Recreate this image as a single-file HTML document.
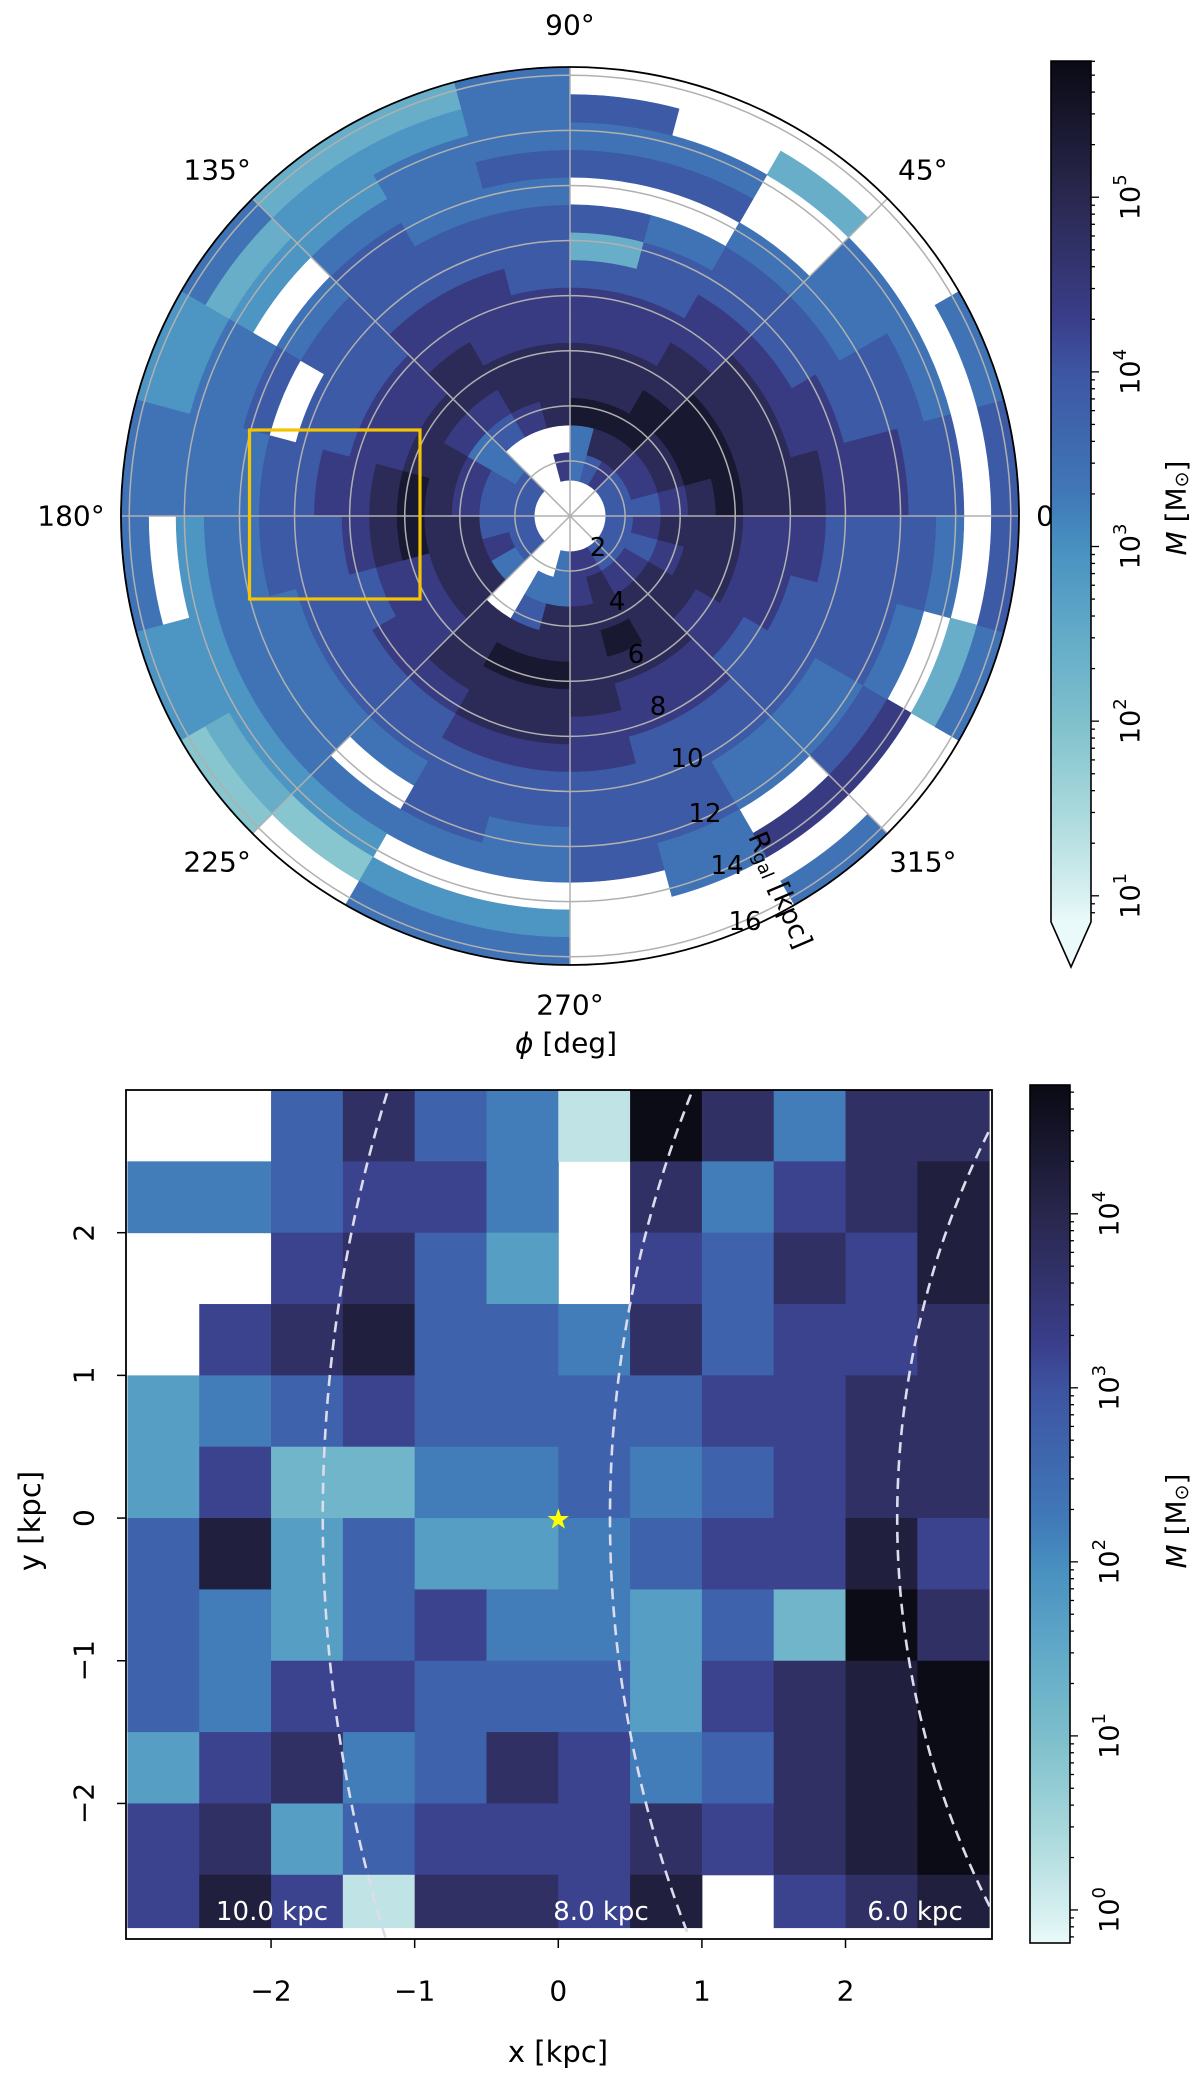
<!DOCTYPE html>
<html><head><meta charset="utf-8"><style>
body{margin:0;background:#fff;overflow:hidden;}
svg{display:block;}
svg text{font-family:"DejaVu Sans","Liberation Sans",sans-serif;}
</style></head><body>
<svg id="fig" xmlns="http://www.w3.org/2000/svg" width="1200" height="2079" viewBox="0 0 1200 2079">
<defs>
<linearGradient id="cbgrad" x1="0" y1="1" x2="0" y2="0">
<stop offset="0" stop-color="#eafafa"/><stop offset="0.03" stop-color="#d8f0f0"/><stop offset="0.13" stop-color="#a8d8dc"/><stop offset="0.233" stop-color="#7fc0cc"/><stop offset="0.335" stop-color="#62aac8"/><stop offset="0.436" stop-color="#4890c0"/><stop offset="0.497" stop-color="#4078b8"/><stop offset="0.64" stop-color="#3d55a3"/><stop offset="0.70" stop-color="#3a3e8a"/><stop offset="0.84" stop-color="#2a2850"/><stop offset="1" stop-color="#0a0a14"/>
</linearGradient>
<clipPath id="axclip"><rect x="126" y="1090" width="866" height="849"/></clipPath>
</defs>
<g id="polar"></g>
<g id="cb1"></g>
<g id="heat"></g>
<g id="cb2"></g>
</svg>
<script>
// ---------- data ----------
const polarPhiBinsDeg = [0,15,30,45,60,75,90,105,120,135,150,165,180,195,210,225,240,255,270,285,300,315,330,345];
const polarRStart = [1.3,2.3,3.3,4.3,5.3,6.3,7.3,8.3,9.3,10.3,11.3,12.3,13.3,14.3,15.3];
// per phi bin, digit d => log10 M = 1.4 + 0.5 d ; '.' = empty
const polarMass = [
"5567877766655.5",
"5678877665554.4",
"5678877655444..",
"67887766554..2.",
"5787766554.54..",
"4487766525.545.",
"6.7776655545444",
"..6776665544432",
"..5677665554332",
"54467665554.324",
"556776655.54433",
"556787665544444",
"5577876555443.4",
"567766555444333",
"547766655444321",
"...7776554.431.",
".45787765554.34",
"447787765544.34",
"667777665555...",
"6778766555544..",
"56777665544.6.4",
"5677665554456..",
"556776655554.24",
"5677766655554.5"
];
const heatXEdges = [-3,-2.5,-2,-1.5,-1,-0.5,0,0.5,1,1.5,2,2.5,3];
const heatYEdges = [3,2.5,2,1.5,1,0.5,0,-0.5,-1,-1.5,-2,-2.5,-2.87];
// digit d => log10 M = 0.2 + 0.5 d
const heatMass = [
"..5754097477",
"445664.74678",
"..6753.65768",
".67855475667",
"345655556677",
"362244545677",
"583533456686",
"543564435297",
"546655536789",
"367457645789",
"673566676789",
"68607768.678"
];
const rTicks = [2,4,6,8,10,12,14,16];
const phiTicks = [0,45,90,135,180,225,270,315];
const cb1Ticks = [1,2,3,4,5];
const cb2Ticks = [0,1,2,3,4];
const xTicks = [-2,-1,0,1,2];
const yTicks = [-2,-1,0,1,2];
const ringRadii = [10,8,6];
const gcX = 8.36;

// ---------- helpers ----------
const NS='http://www.w3.org/2000/svg';
const stops=[[0,[234,250,250]],[.03,[216,240,240]],[.13,[168,216,220]],[.233,[127,192,204]],[.335,[98,170,200]],[.436,[72,144,192]],[.497,[64,120,184]],[.64,[61,85,163]],[.70,[58,62,138]],[.84,[42,40,80]],[1,[10,10,20]]];
function cmap(t){t=Math.max(0,Math.min(1,t));for(let i=1;i<stops.length;i++){if(t<=stops[i][0]){const a=stops[i-1],b=stops[i];const f=(t-a[0])/(b[0]-a[0]);const c=a[1].map((v,k)=>Math.round(v+(b[1][k]-v)*f));return `rgb(${c[0]},${c[1]},${c[2]})`;}}return 'rgb(10,10,20)';}
function mk(tag,attrs,parent){const e=document.createElementNS(NS,tag);for(const k in attrs)e.setAttribute(k,attrs[k]);parent.appendChild(e);return e;}
function txt(parent,x,y,s,size,anchor,extra){const t=mk('text',Object.assign({x:x,y:y,'font-size':size,'text-anchor':anchor||'middle','dominant-baseline':'central',fill:'#000'},extra||{}),parent);t.textContent=s;return t;}

// ---------- polar ----------
const P=document.getElementById('polar');
const cx=570,cy=516,Rpx=449,rMax=16.3;
const rs=r=>r/rMax*Rpx;
const c1lo=0.85,c1hi=5.78;
function sector(r0,r1,a0,a1){const A0=a0*Math.PI/180,A1=a1*Math.PI/180;const p=(r,a)=>[(cx+rs(r)*Math.cos(a)).toFixed(2),(cy-rs(r)*Math.sin(a)).toFixed(2)];
const [x0,y0]=p(r1,A0),[x1,y1]=p(r1,A1),[x2,y2]=p(r0,A1),[x3,y3]=p(r0,A0);
return `M${x0},${y0}A${rs(r1)},${rs(r1)} 0 0 0 ${x1},${y1}L${x2},${y2}A${rs(r0)},${rs(r0)} 0 0 1 ${x3},${y3}Z`;}
polarMass.forEach((row,k)=>{for(let j=0;j<polarRStart.length;j++){const ch=row[j];if(!ch||ch==='.')continue;const lm=1.4+0.5*(+ch);
const r0=polarRStart[j],r1=Math.min(rMax,r0+1),a0=polarPhiBinsDeg[k],a1=a0+15;
const col=cmap((lm-c1lo)/(c1hi-c1lo));
const e=mk('path',{d:sector(r0,r1,a0,a1),fill:col,stroke:col,'stroke-width':0.6},P);

}});
rTicks.forEach(r=>{const c=mk('circle',{cx:cx,cy:cy,r:rs(r),fill:'none',stroke:'#b0b0b0','stroke-width':1.5},P);

});
phiTicks.forEach(a=>{const A=a*Math.PI/180;const l=mk('line',{x1:cx,y1:cy,x2:cx+Rpx*Math.cos(A),y2:cy-Rpx*Math.sin(A),stroke:'#b0b0b0','stroke-width':1.5},P);


const lx=cx+(Rpx+50)*Math.cos(A),ly=cy-(Rpx+40)*Math.sin(A)+(a===90?-2:0);
const t=txt(P,a===0?1052:lx,ly,a+'°',28);

});
mk('circle',{cx:cx,cy:cy,r:Rpx,fill:'none',stroke:'#000','stroke-width':1.8,},P);
const rLabelPos=[[598,548],[617,602],[636,655],[658,707],[687,759],[705,814],[727,866],[745,922]];
rTicks.forEach((r,i)=>{const t=txt(P,rLabelPos[i][0],rLabelPos[i][1],String(r),26);

});
const rl=mk('text',{x:0,y:0,'font-size':27,'text-anchor':'middle','dominant-baseline':'central',transform:'translate(780,890) rotate(67)',},P);
rl.innerHTML='R<tspan font-size="18" dy="6">gal</tspan><tspan dy="-6"> [kpc]</tspan>';
mk('rect',{x:249.5,y:430,width:170.5,height:169,fill:'none',stroke:'#f5c400','stroke-width':3.2,},P);
const pt=txt(P,566,1043,'',28,'middle',{});
pt.innerHTML='<tspan font-style="italic">ϕ</tspan> [deg]';

// ---------- colorbar helper ----------
function colorbar(g,x,y0,y1,lo,hi,ticks,tri,titleY){
 mk('rect',{x:x,y:y0,width:40,height:y1-y0,fill:'url(#cbgrad)',stroke:'none'},g);
 if(tri){mk('path',{d:`M${x},${y1}L${x+40},${y1}L${x+20},${y1+45}Z`,fill:'#eafafa',stroke:'none'},g);
  mk('path',{d:`M${x},${y0}L${x+40},${y0}L${x+40},${y1}L${x+20},${y1+45}L${x},${y1}Z`,fill:'none',stroke:'#000','stroke-width':1.6},g);}
 else mk('rect',{x:x,y:y0,width:40,height:y1-y0,fill:'none',stroke:'#000','stroke-width':1.6},g);
 const py=v=>y1-(v-lo)/(hi-lo)*(y1-y0);
 for(let d=Math.floor(lo);d<=Math.ceil(hi);d++){for(let m=1;m<10;m++){const v=d+Math.log10(m);if(v<lo||v>hi)continue;
  mk('line',{x1:x+40,x2:x+40+(m===1?8:4),y1:py(v),y2:py(v),stroke:'#000','stroke-width':1.3},g);}}
 ticks.forEach(v=>{const t=mk('text',{x:0,y:0,'font-size':27,'text-anchor':'middle','dominant-baseline':'central',transform:`translate(${x+80},${py(v)}) rotate(-90)`},g);
  
  
  t.innerHTML='10<tspan font-size="18" dy="-11">'+v+'</tspan>';});
 const tt=mk('text',{x:0,y:0,'font-size':28,'text-anchor':'middle','dominant-baseline':'central',transform:`translate(1176,${titleY}) rotate(-90)`},g);
 
 
 tt.innerHTML='<tspan font-style="italic">M</tspan> [M<tspan font-size="19" dy="6">⊙</tspan><tspan dy="-6">]</tspan>';
}
colorbar(document.getElementById('cb1'),1051,61,922,c1lo,c1hi,cb1Ticks,true,508);

// ---------- heatmap ----------
const H=document.getElementById('heat');
const xLo=-3.01,xHi=3.02,yLo=-2.95,yHi=3.0,axL=126,axR=992,axT=1090,axB=1939;
const sx=v=>axL+(v-xLo)/(xHi-xLo)*(axR-axL);
const sy=v=>axB-(v-yLo)/(yHi-yLo)*(axB-axT);
const c2lo=-0.19,c2hi=4.74;
const cells=mk('g',{'clip-path':'url(#axclip)'},H);
heatMass.forEach((row,i)=>{for(let j=0;j<heatXEdges.length-1;j++){const ch=row[j];if(!ch||ch==='.')continue;const lm=0.2+0.5*(+ch);
 const col=cmap((lm-c2lo)/(c2hi-c2lo));
 const e=mk('rect',{x:sx(heatXEdges[j]),y:sy(heatYEdges[i]),width:sx(heatXEdges[j+1])-sx(heatXEdges[j])+0.5,height:sy(heatYEdges[i+1])-sy(heatYEdges[i])+0.5,fill:col},cells);
 
 }});
ringRadii.forEach(R=>{const e=mk('circle',{cx:sx(gcX),cy:sy(0),r:sx(gcX+R)-sx(gcX),fill:'none',stroke:'#dcdcec','stroke-width':2.6,'stroke-dasharray':'11,7'},cells);
 
 
 const t=txt(H,R===10?272:(R===8?601:915),1912,R.toFixed(1)+' kpc',26,'middle',{fill:'#fff'});
 
 });
txt(H,sx(0),sy(0)+1,'★',28,'middle',{fill:'#ffff00',});
mk('rect',{x:axL,y:axT,width:axR-axL,height:axB-axT,fill:'none',stroke:'#000','stroke-width':1.8,},H);
xTicks.forEach(v=>{mk('line',{x1:sx(v),x2:sx(v),y1:axB,y2:axB+9,stroke:'#000','stroke-width':1.5},H);
 const t=txt(H,sx(v),axB+52,String(v).replace('-','−'),28);
 
 });
yTicks.forEach(v=>{mk('line',{x1:axL-9,x2:axL,y1:sy(v),y2:sy(v),stroke:'#000','stroke-width':1.5},H);
 const t=mk('text',{x:0,y:0,'font-size':28,'text-anchor':'middle','dominant-baseline':'central',transform:`translate(${axL-42},${sy(v)}) rotate(-90)`},H);
 t.textContent=String(v).replace('-','−');
 
 });
txt(H,558,2052,'x [kpc]',29,'middle',{});
const yt=mk('text',{x:0,y:0,'font-size':29,'text-anchor':'middle','dominant-baseline':'central',transform:'translate(30,1521) rotate(-90)',},H);
yt.textContent='y [kpc]';
colorbar(document.getElementById('cb2'),1030,1085,1943,c2lo,c2hi,cb2Ticks,false,1521);
</script>
</body></html>
